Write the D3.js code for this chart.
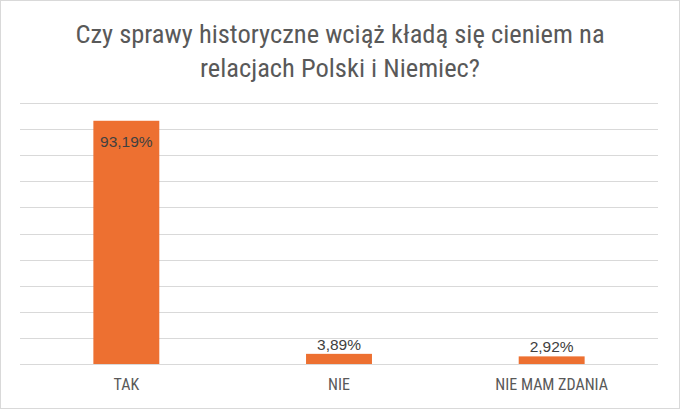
<!DOCTYPE html>
<html><head><meta charset="utf-8">
<script src="https://cdn.jsdelivr.net/npm/d3@7"></script>
<style>body{margin:0;background:#fff}</style>
</head><body>
<svg id="c" width="680" height="409"></svg>
<script>
const categories = ["TAK", "NIE", "NIE MAM ZDANIA"];
const values = [93.19, 3.89, 2.92];
const valueLabels = ["93,19%", "3,89%", "2,92%"];
const yTicks = [0,10,20,30,40,50,60,70,80,90,100];
const titleLines = ["Czy sprawy historyczne wciąż kładą się cieniem na", "relacjach Polski i Niemiec?"];

const svg = d3.select("#c");
const W = 680, H = 409;
const narrow = "'Liberation Sans Narrow', 'Arial Narrow', 'Roboto Condensed', sans-serif";
svg.append("rect").attr("x",0.5).attr("y",0.5).attr("width",W-1).attr("height",H-1)
  .attr("fill","#fff").attr("stroke","#d9d9d9");

const m = {left:20, right:22, top:103, bottom:45};
const x = d3.scaleBand().domain(categories).range([m.left, W-m.right]).paddingInner(0.69).paddingOuter(0.345);
const y = d3.scaleLinear().domain([0,100]).range([H-m.bottom, m.top]);

svg.append("g").selectAll("line").data(yTicks).join("line")
  .attr("x1", m.left).attr("x2", W-m.right)
  .attr("y1", d=>Math.round(y(d))+0.5).attr("y2", d=>Math.round(y(d))+0.5)
  .attr("stroke","#d9d9d9").attr("stroke-width",1);

svg.append("g").selectAll("rect").data(values).join("rect")
  .attr("x",(d,i)=>x(categories[i])).attr("width",x.bandwidth())
  .attr("y",d=>y(d)).attr("height",d=>y(0)-y(d))
  .attr("fill","#ed7031");

svg.append("g").selectAll("text").data(values).join("text")
  .attr("x",(d,i)=>x(categories[i])+x.bandwidth()/2)
  .attr("y",(d,i)=> i===0 ? y(d)+26 : y(d)-4)
  .attr("text-anchor","middle")
  .attr("font-family","'Liberation Sans', Arial, sans-serif")
  .attr("font-size",15.5).attr("fill","#404040")
  .text((d,i)=>valueLabels[i]);

svg.append("g").selectAll("text").data(categories).join("text")
  .attr("x",d=>x(d)+x.bandwidth()/2).attr("y",H-m.bottom+26)
  .attr("text-anchor","middle").attr("font-family",narrow)
  .attr("font-size",16).attr("fill","#595959").text(d=>d);

svg.append("g").selectAll("text").data(titleLines).join("text")
  .attr("x",W/2).attr("y",(d,i)=>43+i*34)
  .attr("text-anchor","middle").attr("font-family",narrow)
  .attr("font-size",26.5).attr("fill","#595959").text(d=>d);
</script>
</body></html>
